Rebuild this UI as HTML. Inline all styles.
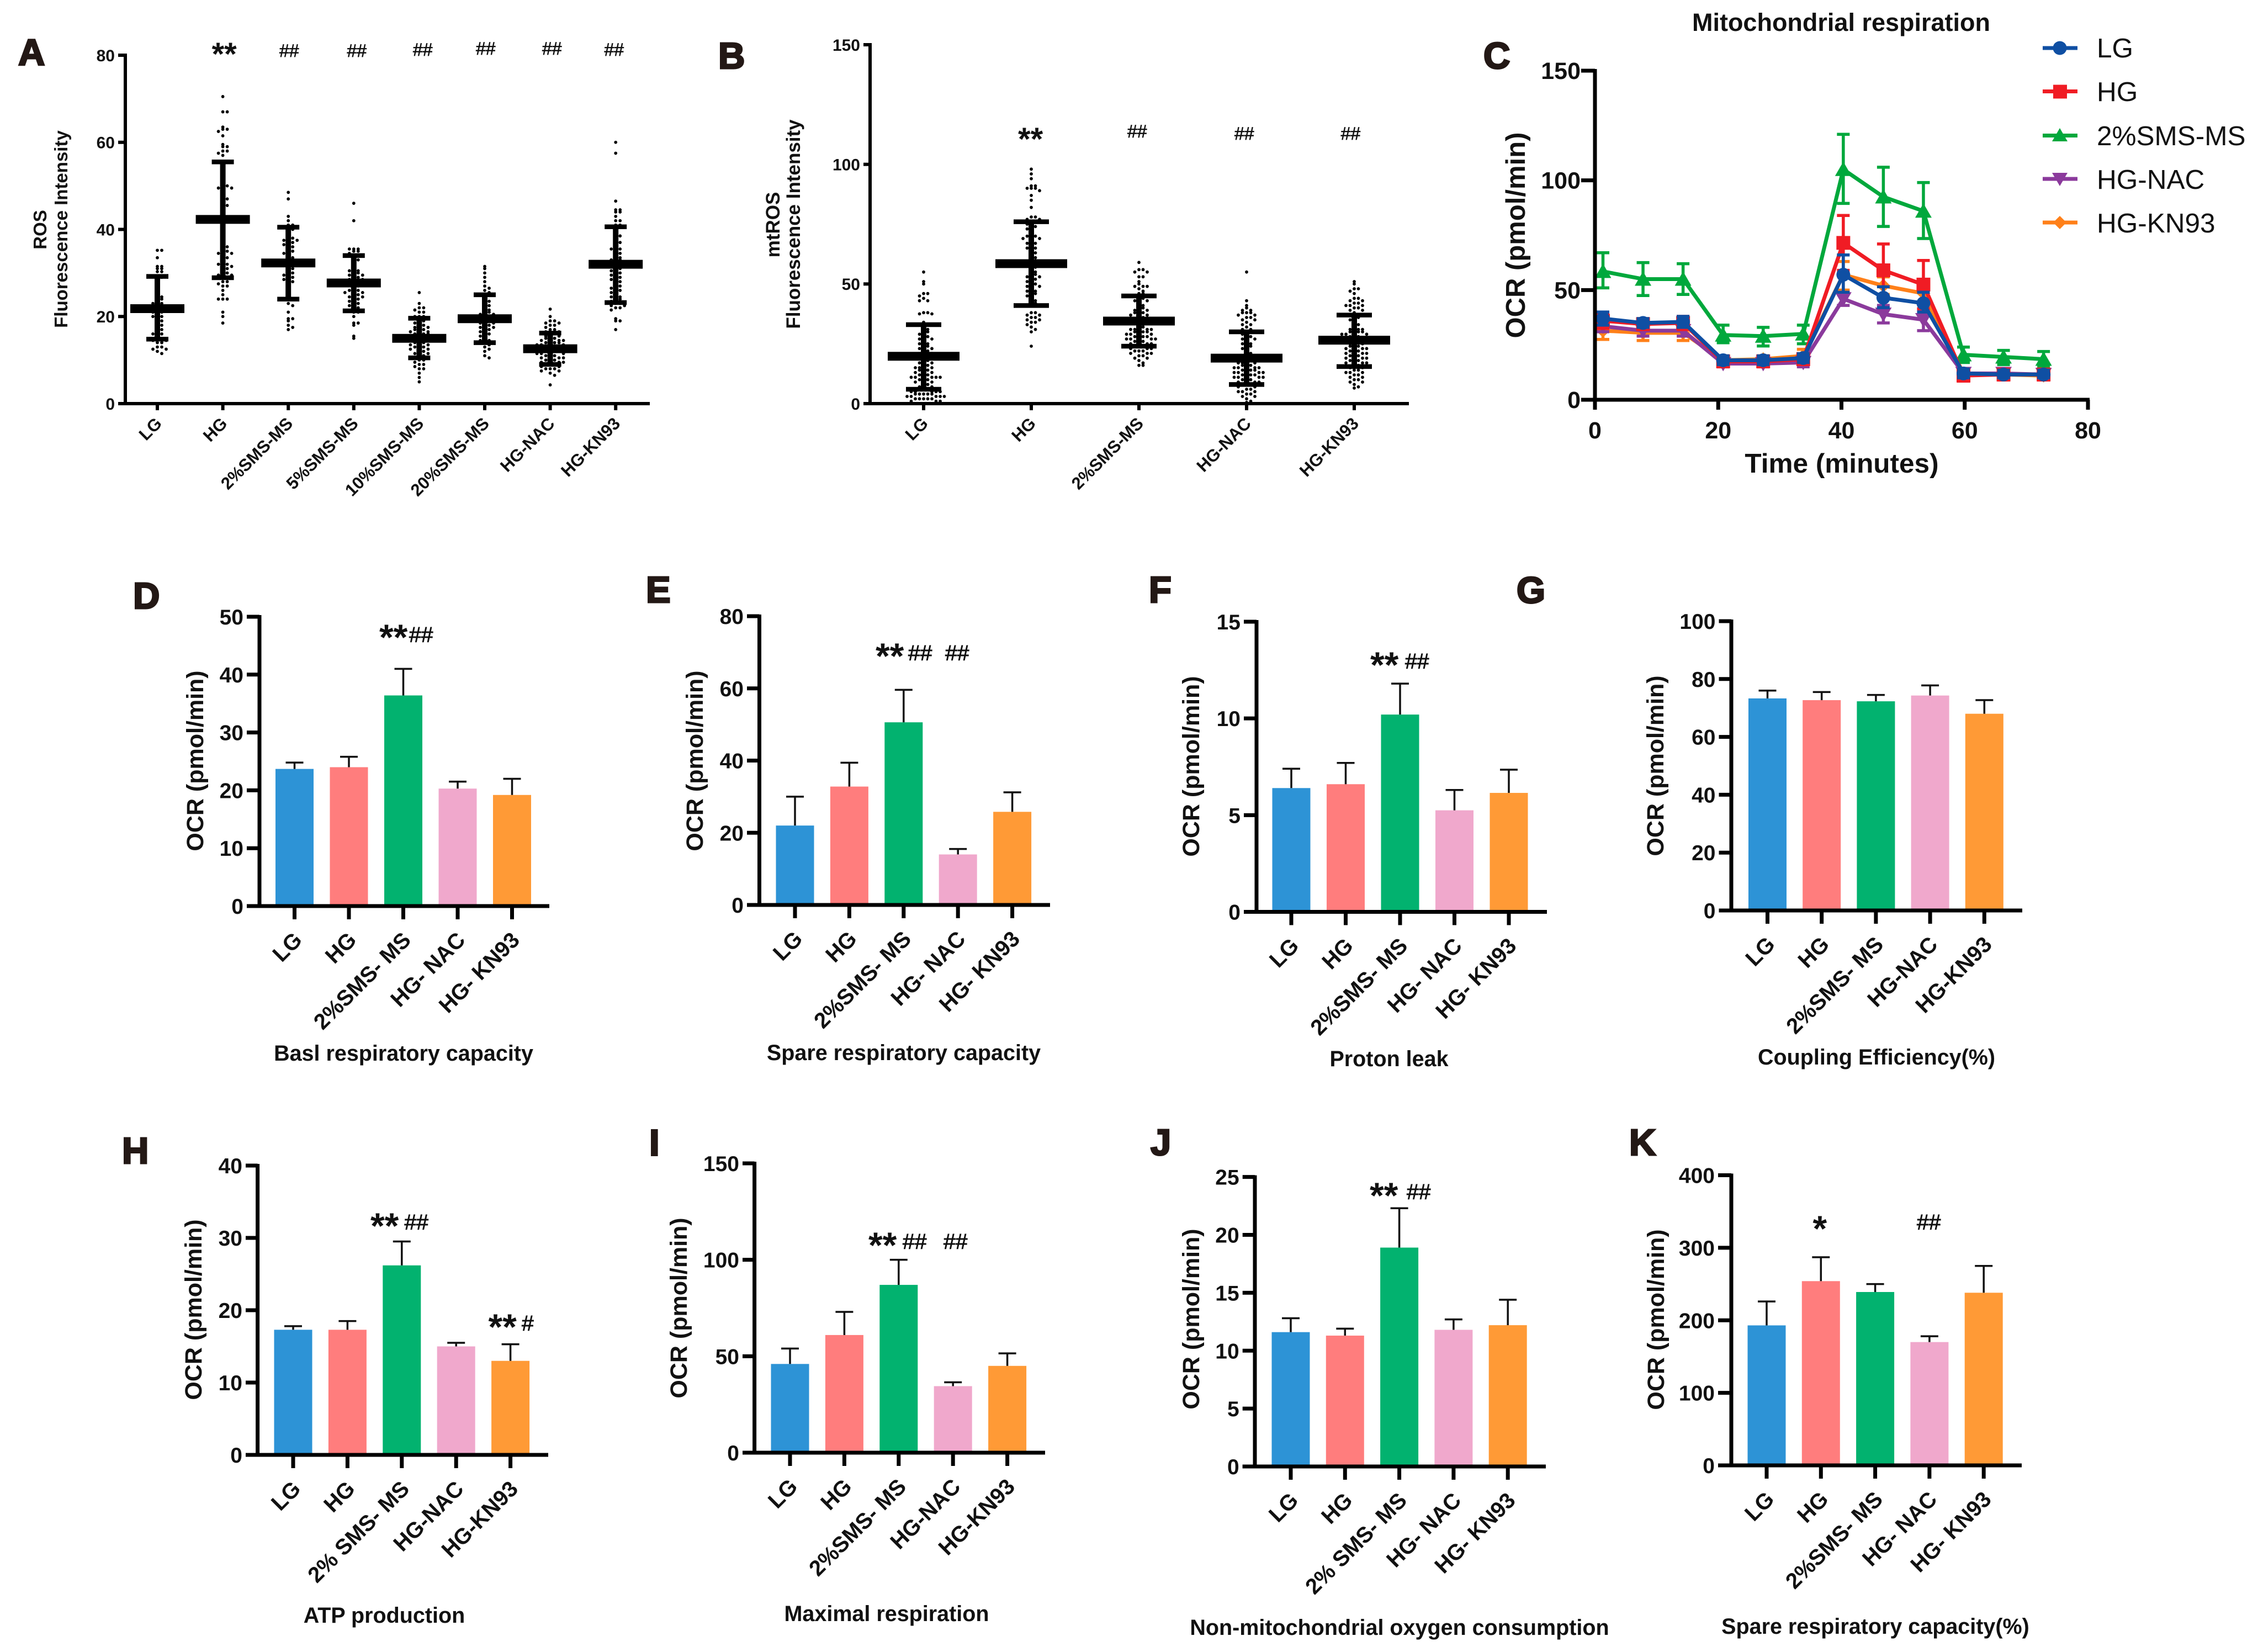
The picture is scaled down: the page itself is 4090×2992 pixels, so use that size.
<!DOCTYPE html>
<html lang="en">
<head>
<meta charset="utf-8">
<title>Mitochondrial respiration figure panels</title>
<style>
html,body{margin:0;padding:0;background:#fff}
svg{display:block;font-family:"Liberation Sans",sans-serif}
.letter{font-size:67px;font-weight:700;fill:#231815;stroke:#231815;stroke-width:3px}
.star{font-size:66px;font-weight:700;fill:#111;transform:translate(-3px,-3px)}
.hash{font-size:39px;fill:#111;stroke:#111;stroke-width:.9px}
.star-s{font-size:58px;font-weight:700;fill:#111;transform:translate(-2px,-3px)}
.hash-s{font-size:32px;fill:#111;stroke:#111;stroke-width:.7px}
.cap{font-size:39.500px;font-weight:700;fill:#111;text-anchor:middle}
.ytitle{font-size:43px;font-weight:700;fill:#111;text-anchor:middle}
.ytitle-s{font-size:33px;font-weight:700;fill:#111;text-anchor:middle}
.legend-text{font-size:49.500px;fill:#111}
</style>
</head>
<body>
<svg id="figure" xmlns="http://www.w3.org/2000/svg" width="4090" height="2992" viewBox="0 0 4090 2992">
<rect width="4090" height="2992" fill="#fff"/>

<g id="panel-a">
<text class="letter" x="33" y="118">A</text>
<text class="ytitle-s" transform="translate(84,416) rotate(-90)">ROS</text>
<text class="ytitle-s" transform="translate(122,415) rotate(-90)">Fluorescence Intensity</text>
<text class="star-s" x="385.6" y="121">**</text>
<text class="hash-s" x="506" y="103">##</text>
<text class="hash-s" x="628.5" y="103">##</text>
<text class="hash-s" x="748" y="101">##</text>
<text class="hash-s" x="862" y="99">##</text>
<text class="hash-s" x="982" y="99">##</text>
<text class="hash-s" x="1094.5" y="101">##</text>
</g>

<g id="panel-b">
<text class="letter" x="1301" y="124">B</text>
<text class="ytitle-s" style="font-size:35px" transform="translate(1412,407) rotate(-90)">mtROS</text>
<text class="ytitle-s" style="font-size:35px" transform="translate(1449,406) rotate(-90)">Fluorescence Intensity</text>
<text class="star-s" x="1846" y="275">**</text>
<text class="hash-s" x="2042" y="249">##</text>
<text class="hash-s" x="2236" y="253">##</text>
<text class="hash-s" x="2428.6" y="253">##</text>
</g>

<g id="panel-c">
<text class="letter" x="2687" y="124">C</text>
<text x="3335" y="56" font-size="45" font-weight="700" text-anchor="middle" fill="#111">Mitochondrial respiration</text>
<text transform="translate(2762,426) rotate(-90)" font-size="49" font-weight="700" text-anchor="middle" fill="#111">OCR (pmol/min)</text>
<text x="3336" y="856" font-size="49.500" font-weight="700" text-anchor="middle" fill="#111">Time (minutes)</text>
<g>
<g>
<line x1="3700" x2="3763" y1="87" y2="87" stroke="#0F4FA3" stroke-width="7"/>
<circle cx="3731" cy="87" r="12.500" fill="#0F4FA3"/>
<text class="legend-text" x="3798" y="104">LG</text>
</g>
<g>
<line x1="3700" x2="3763" y1="165.500" y2="165.500" stroke="#F01C24" stroke-width="7"/>
<rect x="3719" y="153.500" width="25" height="25" fill="#F01C24"/>
<text class="legend-text" x="3798" y="183">HG</text>
</g>
<g>
<line x1="3700" x2="3763" y1="245.500" y2="245.500" stroke="#00A83C" stroke-width="7"/>
<polygon points="3731,232 3745,256 3717,256" fill="#00A83C"/>
<text class="legend-text" x="3798" y="263">2%SMS-MS</text>
</g>
<g>
<line x1="3700" x2="3763" y1="324" y2="324" stroke="#8B3A9C" stroke-width="7"/>
<polygon points="3717,313 3745,313 3731,337" fill="#8B3A9C"/>
<text class="legend-text" x="3798" y="342">HG-NAC</text>
</g>
<g>
<line x1="3700" x2="3763" y1="403" y2="403" stroke="#FF8019" stroke-width="7"/>
<polygon points="3731,391 3743,403 3731,415 3719,403" fill="#FF8019"/>
<text class="legend-text" x="3798" y="421">HG-KN93</text>
</g>
</g>
</g>

<g id="panel-d">
<text class="letter" x="241" y="1102">D</text>
<text class="ytitle" transform="translate(368,1378) rotate(-90)">OCR (pmol/min)</text>
<text class="cap" x="731" y="1921">Basl respiratory capacity</text>
<text class="star" x="690" y="1180">**</text>
<text class="hash" x="741" y="1163">##</text>
</g>

<g id="panel-e">
<text class="letter" x="1170" y="1091">E</text>
<text class="ytitle" transform="translate(1273,1378) rotate(-90)">OCR (pmol/min)</text>
<text class="cap" x="1637" y="1920">Spare respiratory capacity</text>
<text class="star" x="1589" y="1214">**</text>
<text class="hash" x="1645" y="1196">##</text>
<text class="hash" x="1712" y="1196">##</text>
</g>

<g id="panel-f">
<text class="letter" x="2081" y="1091">F</text>
<text class="ytitle" transform="translate(2172,1388) rotate(-90)">OCR (pmol/min)</text>
<text class="cap" x="2516" y="1931">Proton leak</text>
<text class="star" x="2485" y="1230">**</text>
<text class="hash" x="2545" y="1211">##</text>
</g>

<g id="panel-g">
<text class="letter" x="2747" y="1092">G</text>
<text class="ytitle" transform="translate(3013,1387) rotate(-90)">OCR (pmol/min)</text>
<text class="cap" x="3399" y="1928">Coupling Efficiency(%)</text>
</g>

<g id="panel-h">
<text class="letter" x="221" y="2107">H</text>
<text class="ytitle" transform="translate(365,2372) rotate(-90)">OCR (pmol/min)</text>
<text class="cap" x="696" y="2939">ATP production</text>
<text class="star" x="674" y="2246">**</text>
<text class="hash" x="732.5" y="2227">##</text>
<text class="star" x="887.5" y="2429">**</text>
<text class="hash" x="945" y="2410">#</text>
</g>

<g id="panel-i">
<text class="letter" x="1176" y="2092.500">I</text>
<text class="ytitle" transform="translate(1244,2369) rotate(-90)">OCR (pmol/min)</text>
<text class="cap" x="1606" y="2936">Maximal respiration</text>
<text class="star" x="1576" y="2281">**</text>
<text class="hash" x="1635" y="2262">##</text>
<text class="hash" x="1709" y="2262">##</text>
</g>

<g id="panel-j">
<text class="letter" x="2084" y="2092">J</text>
<text class="ytitle" transform="translate(2172,2389) rotate(-90)">OCR (pmol/min)</text>
<text class="cap" x="2535" y="2961">Non-mitochondrial oxygen consumption</text>
<text class="star" x="2484" y="2191">**</text>
<text class="hash" x="2548" y="2172">##</text>
</g>

<g id="panel-k">
<text class="letter" x="2951" y="2092">K</text>
<text class="ytitle" transform="translate(3014,2390) rotate(-90)">OCR (pmol/min)</text>
<text class="cap" x="3397" y="2959">Spare respiratory capacity(%)</text>
<text class="star" x="3286.500" y="2251">*</text>
<text class="hash" x="3472" y="2227">##</text>
</g>
</svg>

<script>
/* ---------- bar panel data ---------- */
const barColors = ['#2D93D6','#FF7D7D','#02B26F','#F0A8CC','#FF9A36'];
const barGroups = ['LG','HG','2pct-SMS-MS','HG-NAC','HG-KN93'];
const dLabels = ['LG','HG','2%SMS- MS','HG- NAC','HG- KN93'];
const eLabels = ['LG','HG','2%SMS- MS','HG- NAC','HG- KN93'];
const fLabels = ['LG','HG','2%SMS- MS','HG- NAC','HG- KN93'];
const gLabels = ['LG','HG','2%SMS- MS','HG-NAC','HG-KN93'];
const hLabels = ['LG','HG','2% SMS- MS','HG-NAC','HG-KN93'];
const iLabels = ['LG','HG','2%SMS- MS','HG-NAC','HG-KN93'];
const jLabels = ['LG','HG','2% SMS- MS','HG- NAC','HG- KN93'];
const kLabels = ['LG','HG','2%SMS- MS','HG- NAC','HG- KN93'];
const dValues = [23.7,24,36.4,20.3,19.2];
const dUpper  = [24.8,25.8,41,21.5,22];
const dTicks  = [0,10,20,30,40,50];
const eValues = [22,32.8,50.6,14,25.8];
const eUpper  = [30,39.4,59.6,15.5,31.2];
const eTicks  = [0,20,40,60,80];
const fValues = [6.4,6.6,10.2,5.25,6.15];
const fUpper  = [7.4,7.7,11.8,6.3,7.35];
const fTicks  = [0,5,10,15];
const gValues = [73.3,72.7,72.3,74.3,68];
const gUpper  = [76,75.5,74.5,77.8,72.7];
const gTicks  = [0,20,40,60,80,100];
const hValues = [17.3,17.3,26.2,15,13];
const hUpper  = [17.8,18.5,29.5,15.5,15.3];
const hTicks  = [0,10,20,30,40];
const iValues = [46,61,87,34.5,45];
const iUpper  = [54,73,100,36.5,51.5];
const iTicks  = [0,50,100,150];
const jValues = [11.6,11.3,18.9,11.8,12.2];
const jUpper  = [12.8,11.9,22.3,12.7,14.4];
const jTicks  = [0,5,10,15,20,25];
const kValues = [193,254,239,170,238];
const kUpper  = [226,287,250,178,275];
const kTicks  = [0,100,200,300,400];

/* ---------- panel A data ---------- */
const aLabels = ['LG','HG','2%SMS-MS','5%SMS-MS','10%SMS-MS','20%SMS-MS','HG-NAC','HG-KN93'];
const aTicks = [0,20,40,60,80];
const aMeans = [21.8,42.3,32.3,27.7,15,19.5,12.6,32];
const aUpper = [29.2,55.5,40.5,34,19.6,25,16.2,40.6];
const aLower = [14.8,28.9,24,21.3,10.5,14,9,23.2];
const aDotsLG = [35.2,35.2,33.5,31.5,31.5,31,31,30.3,30.3,29,29,27.5,26.5,25.5,25,24.5,24,24,23,23,23,22,22,22,21,21,21,20,20,20,19,19,18,18,17,17,16,16,16,15,15,14.5,14.5,14,14,13,13,12.5,12.5,12,11.5];
const aDotsHG = [70.5,67,67,63.5,63,63,62.5,61.5,59.5,59,59,58,58,57.5,57,50,50,49.5,49.5,49,47,47,45.5,45.5,42,41,36,36,35,35,34.5,34.5,34,33.5,33,32,32,32,31.5,31,31,30,30,29.5,29.5,28,28,27.5,27,27,26,25,24,24,24,21,20,18.5];
const aDots2 = [48.5,47,43,42,41,41,40,40,39,38,38,37.5,37.5,37,37,36.5,36,36,35,35,34.5,34,33.5,33,33,32,32,32,31,31,30,30,29.5,29,29,28.5,28,28,27,26,25,24,23,22.5,21,19.5,19.5,19,18,17.5,17];
const aDots5 = [46,42,35.5,35.5,35.5,35,35,34.5,34,33,33,32,31,30.5,30.5,30,30,29.5,29.5,29,29,28.5,28.5,28,28,28,27,27,26,26,26,25.5,25.5,25,25,24.5,24.5,24,24,23.5,23,23,22.5,22,22,21,21,20,18.5,18.5,18,15.5,15];
const aDots10 = [25.5,23,22,22,21.5,21,21,20,20,20,19.5,19,19,18.5,18,18,17.5,17.5,17,17,17,16.5,16.5,16,16,16,16,15.5,15.5,15,15,15,14.5,14.5,14.5,14,14,14,13.5,13.5,13,13,13,12.5,12.5,12,12,11.5,11.5,11,11,10.5,10.5,10,10,9.5,9,9,8.5,8,8,7,6,5];
const aDots20 = [31.5,31,30,29,28,27,26.5,26,25.5,24.5,24,23.5,23,22.5,22,21.5,21,21,20.5,20.5,20,20,20,19.5,19.5,19,19,18.5,18.5,18,18,17.5,17.5,17,17,16.5,16,16,15.5,15,14.5,14.5,14,13.5,13,12.5,12,11,10.5];
const aDotsNAC = [21.7,20,19,19,18.5,18.5,18,18,17.5,17,17,16.5,16.5,16,16,15.5,15.5,15,15,15,14.5,14.5,14.5,14,14,14,14,13.5,13.5,13.5,13,13,13,13,12.5,12.5,12.5,12,12,12,12,11.5,11.5,11.5,11,11,11,10.5,10.5,10.5,10,10,10,9.5,9.5,9.5,9,9,9,8.5,8.5,8,8,8,7.5,7.5,7,6.5,4.3];
const aDotsKN = [60,57.5,46.5,44.5,44.5,44,44,43,42,42,41,41,40,39,38.5,38,37,37,36,35.5,35.5,35,34.5,34,33.5,33,33,33,32.5,32,32,31.5,31,31,30.5,30,30,29.5,29,29,28.5,28,28,27,27,26.5,26,26,25.5,25,24.5,24.5,24,24,23.5,23,23,22.5,22.5,22,22,21.5,19.5,19,19,17];

/* ---------- panel B data ---------- */
const bLabels = ['LG','HG','2%SMS-MS','HG-NAC','HG-KN93'];
const bTicks = [0,50,100,150];
const bMeans = [19.8,58.5,34.5,19,26.5];
const bUpper = [33,76,45,30,37];
const bLower = [6,41,24,8,15.5];
const bDotsLG = [55,51,50,46,46,45,44,43,43,38,38,37.5,37.5,34,33,33,32,31,30,30,29,28,28,27,27,26,25,25,24,24,23,23,22,22,21,21,20,20,19,19,18,18,17,17,16,16,15,15,15,14,14,14,13,13,12,12,12,11,11,11,11,11,10,10,10,9,9,8,8,7,7,6,6,6,5,5,5,5,5,4,4,4,4,4,3,3,3,3,3,2,2,2,2,2,1,1,1];
const bDotsHG = [98,96,94,91,91,90,90,90,89,87,85,82,78,78,77,77,76,76,75,74,74,73,72,70,70,70,69,69,68,67,67,66,65,65,64,63,62,61,60,58,57,56,55,54,54,53,53,52,52,51,50,50,49,49,48,47,47,46,46,45,44,43,42,42,38,38,37,37,36,36,35,35,34,34,33,32,31,30,24];
const bDots2 = [59,56,56,55,55,53,53,51,50,49,49,49,48,47,46,46,45,45,44,44,43,43,42,41,40,40,39,39,38,38,38,37,37,36,36,35,35,33,33,32,32,31,31,31,31,30,30,30,30,29,29,29,28,28,28,28,27,27,27,27,26,26,26,25,25,25,24,24,24,23,23,23,22,22,22,21,21,21,20,20,19,19,18,17,16,16];
const bDotsNAC = [55,43,41,40,39,39,38,38,38,37,37,36,36,35,35,34,33,33,32,31,31,30,30,29,28,28,27,27,26,25,25,24,24,23,22,21,20,20,19,19,18,18,17,17,17,16,16,16,15,15,15,15,14,14,14,14,13,13,13,13,12,12,12,12,11,11,11,11,10,10,10,9,9,9,8,8,8,7,7,6,6,5,5,5,4,4,3,3,2,1,0.5];
const bDotsKN = [51,50,48,48,47,46,44,44,43,43,42,42,41,41,41,40,40,39,39,38,37,36,36,35,34,33,32,31,31,31,30,30,30,30,29,29,29,28,28,28,27,27,26,26,25,25,24,24,24,23,23,23,22,22,22,21,21,21,20,20,20,19,19,19,18,18,18,17,17,17,16,16,15,15,14,14,13,13,13,12,12,11,11,10,10,9,9,8,7,6.5];

/* ---------- panel C data ---------- */
const cTimes = [1.3,7.8,14.3,20.8,27.3,33.8,40.3,46.8,53.3,59.8,66.3,72.8];
const cXTicks = [0,20,40,60,80];
const cYTicks = [0,50,100,150];
const cLG = [37,35,35.5,18,18,19,57,46.5,44,12,11.5,11.5];
const cLGUpper = [40,37,38,20,20,21,66,51.5,49,14,13.5,13.5];
const cLGLower = [34,33,33,16,16,17,49,42,40,10,10,10];
const cHG = [36,34.5,35,17.5,17.5,18.5,71.5,59,52.5,11,11.5,11.5];
const cHGUpper = [39.5,37,38,20,20,21,84,71,63.5,13.5,14,14];
const cHGLower = [32.5,32,32,15,15,16,59,47,41.5,8.5,9,9];
const cSMS = [58.5,55,55,29.5,29,30,105,92.5,86,20.5,19.5,18.5];
const cSMSUpper = [67,62.5,62,34,33,34,121,106,99,24,22.5,22];
const cSMSLower = [51,47.5,48,26,24.5,25.5,89.5,79,73.5,17,16,15];
const cNAC = [33.5,31.5,31.5,16.5,16.5,17,46,39,36.5,12,12,11.5];
const cNACUpper = [36,34,34,18,18,19,49,43,41,14,14,13.5];
const cNACLower = [31,29,29,15,15,15,43,35,31.5,10,10,10];
const cKN = [31.5,30.5,30.5,18,18.5,20,57,52,48.5,12,11.5,11];
const cKNUpper = [35.5,34,34,20,20,23,63,56,52,14,13,13];
const cKNLower = [27.5,27,27,16,17,17,50,48,44,10,10,9];

/* ---------- drawing ---------- */
const NS = 'http://www.w3.org/2000/svg';
function mk(parent, tag, attrs, txt){
  const el = document.createElementNS(NS, tag);
  for (const k in attrs) el.setAttribute(k, attrs[k]);
  if (txt !== undefined) el.textContent = txt;
  parent.appendChild(el);
  return el;
}
function linear(d0, d1, r0, r1){ return v => r0 + (v - d0) / (d1 - d0) * (r1 - r0); }

function drawAxes(root, o, ticks, x, y, labels){
  let el;
  el = mk(root,'line',{x1:o.axisX,x2:o.axisX,y1:o.top-3,y2:o.y0+3,stroke:'#000','stroke-width':o.axisW});
  
  
  el = mk(root,'line',{x1:o.left,x2:o.end,y1:o.y0,y2:o.y0,stroke:'#000','stroke-width':o.axisW});
  
  
  ticks.forEach(t => {
    const ty = y(t);
    const tk = mk(root,'line',{x1:o.left,x2:o.axisX,y1:ty,y2:ty,stroke:'#000','stroke-width':o.axisW});
    
    
    const lb = mk(root,'text',{x:o.left-o.labelGap,y:ty+o.tickFont*0.36,'text-anchor':'end','font-size':o.tickFont,'font-weight':700,fill:'#111'},t);
    
    
  });
  labels.forEach((s,i) => {
    const px = x(i);
    const tk = mk(root,'line',{x1:px,x2:px,y1:o.y0,y2:o.y0+o.tickLen,stroke:'#000','stroke-width':o.axisW});
    
    
    const lb = mk(root,'text',{transform:'translate('+(px+o.catDx)+','+(o.y0+o.catDy)+') rotate(-45)','text-anchor':'end','font-size':o.catFont,'font-weight':700,fill:'#111'},s);
    
    
  });
}

function drawBarPanel(id, g, labels, values, upper, ticks){
  const root = document.getElementById(id);
  const o = {axisX:g.axisX,top:g.top,y0:g.y0,left:g.left,end:g.end,axisW:7,tickLen:24,tickFont:39,labelGap:6,catFont:40,catDx:16,catDy:64};
  const y = linear(0, ticks[ticks.length-1], g.y0, g.top);
  const x = i => g.first + i * g.step;
  values.forEach((v,i) => {
    const px = x(i);
    const bar = mk(root,'rect',{x:px-34.5,y:y(v),width:69,height:g.y0-y(v),fill:barColors[i]});
    
    
    const st = mk(root,'line',{x1:px,x2:px,y1:y(v),y2:y(upper[i]),stroke:'#111','stroke-width':3.5});
    
    
    const cp = mk(root,'line',{x1:px-16,x2:px+16,y1:y(upper[i]),y2:y(upper[i]),stroke:'#111','stroke-width':3.5});
    
    
  });
  drawAxes(root, o, ticks, x, y, labels);
}

drawBarPanel('panel-d',{axisX:470,top:1117,y0:1641,left:447,end:995,first:533.5,step:98.5},dLabels,dValues,dUpper,dTicks);
drawBarPanel('panel-e',{axisX:1375.5,top:1116,y0:1639,left:1353,end:1902,first:1440,step:98.4},eLabels,eValues,eUpper,eTicks);
drawBarPanel('panel-f',{axisX:2276,top:1126,y0:1651.5,left:2253,end:2802,first:2339,step:98.5},fLabels,fValues,fUpper,fTicks);
drawBarPanel('panel-g',{axisX:3136,top:1125,y0:1649,left:3113.5,end:3663,first:3201.5,step:98.2},gLabels,gValues,gUpper,gTicks);
drawBarPanel('panel-h',{axisX:466.6,top:2111,y0:2635,left:445,end:993,first:531,step:98.4},hLabels,hValues,hUpper,hTicks);
drawBarPanel('panel-i',{axisX:1366.6,top:2107,y0:2631,left:1345,end:1893,first:1431,step:98.4},iLabels,iValues,iUpper,iTicks);
drawBarPanel('panel-j',{axisX:2273,top:2131.6,y0:2656,left:2250.7,end:2800,first:2338,step:98.3},jLabels,jValues,jUpper,jTicks);
drawBarPanel('panel-k',{axisX:3136,top:2128.5,y0:2654,left:3112,end:3662,first:3200,step:98.3},kLabels,kValues,kUpper,kTicks);

function drawScatterPanel(id, g, labels, groups, means, upper, lower, ticks){
  const root = document.getElementById(id);
  const y = linear(0, ticks[ticks.length-1], g.y0, g.top);
  const x = i => g.first + i * g.step;
  groups.forEach((vals,i) => {
    const seen = {};
    vals.forEach(v => {
      const key = Math.round(v / g.bin);
      const n = seen[key] = (seen[key] || 0) + 1;
      const side = n % 2 === 0 ? 1 : -1;
      const off = side * Math.floor(n / 2) * g.dotGap;
      const d = mk(root,'circle',{cx:x(i)+off,cy:y(v),r:2.9,fill:'#000'});
      
      
    });
    const px = x(i);
    const st = mk(root,'line',{x1:px,x2:px,y1:y(upper[i]),y2:y(lower[i]),stroke:'#000','stroke-width':10});
    
    
    const c1 = mk(root,'line',{x1:px-g.capW,x2:px+g.capW,y1:y(upper[i]),y2:y(upper[i]),stroke:'#000','stroke-width':8.5});
    
    
    const c2 = mk(root,'line',{x1:px-g.capW,x2:px+g.capW,y1:y(lower[i]),y2:y(lower[i]),stroke:'#000','stroke-width':8.5});
    
    
    const m = mk(root,'line',{x1:px-g.meanW,x2:px+g.meanW,y1:y(means[i]),y2:y(means[i]),stroke:'#000','stroke-width':16});
    
    
  });
  const o = {axisX:g.axisX,top:g.top,y0:g.y0,left:g.left,end:g.end,axisW:6,tickLen:12,tickFont:30,labelGap:6,catFont:31,catDx:10,catDy:38};
  drawAxes(root, o, ticks, x, y, labels);
}

drawScatterPanel('panel-a',{axisX:227,top:100,y0:731,left:214,end:1177,first:285,step:118.6,capW:20,meanW:49,bin:1,dotGap:8},aLabels,
  [aDotsLG,aDotsHG,aDots2,aDots5,aDots10,aDots20,aDotsNAC,aDotsKN],aMeans,aUpper,aLower,aTicks);
drawScatterPanel('panel-b',{axisX:1576,top:81,y0:731,left:1564,end:2552,first:1673,step:195,capW:32,meanW:65,bin:2,dotGap:7.5},bLabels,
  [bDotsLG,bDotsHG,bDots2,bDotsNAC,bDotsKN],bMeans,bUpper,bLower,bTicks);

(function drawLinePanel(){
  const root = document.getElementById('panel-c');
  const x = linear(0, 80, 2889, 3782);
  const y = linear(0, 150, 724, 128);
  const series = [
    {key:'kn93',color:'#FF8019',m:'diamond',vals:cKN,up:cKNUpper,lo:cKNLower},
    {key:'nac',color:'#8B3A9C',m:'down',vals:cNAC,up:cNACUpper,lo:cNACLower},
    {key:'2pct',color:'#00A83C',m:'up',vals:cSMS,up:cSMSUpper,lo:cSMSLower},
    {key:'hg',color:'#F01C24',m:'square',vals:cHG,up:cHGUpper,lo:cHGLower},
    {key:'lg',color:'#0F4FA3',m:'circle',vals:cLG,up:cLGUpper,lo:cLGLower}
  ];
  series.forEach(s => {
    const pts = s.vals.map((v,i) => x(cTimes[i]) + ',' + y(v)).join(' ');
    const ln = mk(root,'polyline',{points:pts,fill:'none',stroke:s.color,'stroke-width':7,'stroke-linejoin':'round'});
    
    
    s.vals.forEach((v,i) => {
      const px = x(cTimes[i]), py = y(v), r = 12.5;
      const hi = y(s.up[i]), lo = y(s.lo[i]);
      const eb = mk(root,'path',{d:'M'+(px-11.5)+' '+hi+'H'+(px+11.5)+'M'+px+' '+hi+'V'+lo+'M'+(px-11.5)+' '+lo+'H'+(px+11.5),fill:'none',stroke:s.color,'stroke-width':5.5});
      
      
      let mkr;
      if (s.m === 'circle') mkr = mk(root,'circle',{cx:px,cy:py,r:r,fill:s.color});
      else if (s.m === 'square') mkr = mk(root,'rect',{x:px-r,y:py-r,width:2*r,height:2*r,fill:s.color});
      else if (s.m === 'up') mkr = mk(root,'polygon',{points:px+','+(py-14)+' '+(px+15)+','+(py+12)+' '+(px-15)+','+(py+12),fill:s.color});
      else if (s.m === 'down') mkr = mk(root,'polygon',{points:(px-15)+','+(py-12)+' '+(px+15)+','+(py-12)+' '+px+','+(py+14),fill:s.color});
      else mkr = mk(root,'polygon',{points:px+','+(py-r)+' '+(px+r)+','+py+' '+px+','+(py+r)+' '+(px-r)+','+py,fill:s.color});
      
      
    });
  });
  let el;
  el = mk(root,'line',{x1:2889,x2:2889,y1:125,y2:742,stroke:'#000','stroke-width':7});
  
  
  el = mk(root,'line',{x1:2864,x2:3785,y1:724,y2:724,stroke:'#000','stroke-width':7});
  
  
  cYTicks.forEach(t => {
    const tk = mk(root,'line',{x1:2864,x2:2889,y1:y(t),y2:y(t),stroke:'#000','stroke-width':7});
    
    
    const lb = mk(root,'text',{x:2863,y:y(t)+15,'text-anchor':'end','font-size':43,'font-weight':700,fill:'#111'},t);
    
    
  });
  cXTicks.forEach(t => {
    const tk = mk(root,'line',{x1:x(t),x2:x(t),y1:724,y2:742,stroke:'#000','stroke-width':7});
    
    
    const lb = mk(root,'text',{x:x(t),y:794,'text-anchor':'middle','font-size':43,'font-weight':700,fill:'#111'},t);
    
    
  });
})();
</script>
</body>
</html>
